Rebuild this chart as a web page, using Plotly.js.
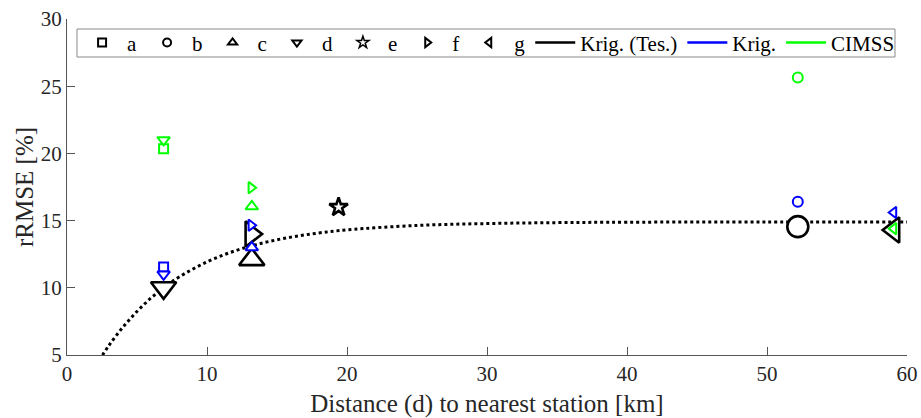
<!DOCTYPE html>
<html>
<head>
<meta charset="utf-8">
<script src="https://cdn.plot.ly/plotly-3.0.1.min.js"></script>
<style>html,body{margin:0;padding:0;background:#fff;}#chart{width:921px;height:418px;}</style>
</head>
<body>
<div id="chart"></div>
<script>
// Stations (categories) and their symbols
const categories = ['a', 'b', 'c', 'd', 'e', 'f', 'g'];
const symbols = ['square-open', 'circle-open', 'triangle-up-open', 'triangle-down-open', 'star-open', 'triangle-right-open', 'triangle-left-open'];
// Distance to nearest station [km]
const distance = [6.9, 52.2, 13.2, 6.9, 19.4, 13.15, 59.05];
// rRMSE [%] per method
const krigTes = [null, 14.55, 12.1, 10.0, 16.0, 14.0, 14.3];
const krig    = [11.55, 16.4, 13.0, 11.0, null, 14.65, 15.6];
const cimss   = [20.35, 25.65, 16.05, 21.0, null, 17.45, 14.4];
// Dotted fitted curve
const curveX = [2.3, 3, 4, 5, 6, 7, 8, 10, 12, 14, 16, 18, 20, 25, 30, 35, 40, 50, 60];
const curveY = [4.6, 5.72, 7.08, 8.24, 9.24, 10.08, 10.8, 11.93, 12.75, 13.34, 13.77, 14.08, 14.31, 14.64, 14.78, 14.85, 14.88, 14.9, 14.9];
// Legend line entries
const lineNames = ['Krig. (Tes.)', 'Krig.', 'CIMSS'];
const lineColors = ['#000000', '#0000ff', '#00ff00'];

const FONT = 'Liberation Serif, Times New Roman, serif';
const traces = [];

traces.push({
  x: curveX, y: curveY, mode: 'lines', type: 'scatter',
  line: {color: '#000', width: 3, dash: 'dot', shape: 'spline'},
  showlegend: false, hoverinfo: 'skip'
});

function series(vals, color, small) {
  return {
    x: distance, y: vals, mode: 'markers', type: 'scatter', showlegend: false,
    marker: {
      symbol: symbols.map(s => s.replace('-open', '')),
      size: small ? [9, 10, 11, 11, 10, 10, 10] : [20, 21, 22, 22, 14, 22, 22],
      color: '#ffffff', opacity: 1,
      line: {color: color, width: small ? 2 : 2.6}
    }
  };
}
traces.push(series(krigTes, '#000000', false));
traces.push(series(krig, '#0000ff', true));
traces.push(series(cimss, '#00ff00', true));

// Legend-only entries
categories.forEach((c, i) => {
  traces.push({
    x: [null], y: [null], mode: 'markers', type: 'scatter', name: c,
    marker: {symbol: symbols[i], size: i === 4 ? 9 : 8, color: '#000', line: {color: '#000', width: i === 4 ? 1.5 : 2}}
  });
});
lineNames.forEach((n, i) => {
  traces.push({
    x: [null], y: [null], mode: 'lines', type: 'scatter', name: n,
    line: {color: lineColors[i], width: 2.5}
  });
});

const layout = {
  width: 921, height: 418,
  margin: {l: 67, r: 14, t: 19, b: 63},
  paper_bgcolor: '#fff', plot_bgcolor: '#fff',
  font: {family: FONT, size: 20, color: '#262626'},
  showlegend: true,
  legend: {
    orientation: 'h', x: 0.012, y: 0.99, xanchor: 'left', yanchor: 'top',
    bgcolor: 'rgba(0,0,0,0)', borderwidth: 0,
    font: {family: FONT, size: 21, color: '#000'},
    itemwidth: 40
  },
  shapes: [{
    type: 'rect', xref: 'paper', yref: 'paper',
    x0: 0.0119, x1: 0.9857, y0: 0.8869, y1: 0.9702,
    line: {color: '#8a8a8a', width: 1}, fillcolor: '#ffffff', layer: 'below'
  }],
  xaxis: {
    range: [0, 60], dtick: 10, tick0: 0, ticks: 'inside', ticklen: 8, tickcolor: '#555',
    showline: true, linecolor: '#555', linewidth: 1, showgrid: false, zeroline: false,
    tickfont: {family: FONT, size: 21, color: '#262626'},
    title: {text: 'Distance (d) to nearest station [km]', font: {family: FONT, size: 25, color: '#262626'}, standoff: 10}
  },
  yaxis: {
    range: [5, 30], dtick: 5, tick0: 5, ticks: 'inside', ticklen: 8, tickcolor: '#555',
    showline: true, linecolor: '#555', linewidth: 1, showgrid: false, zeroline: false,
    tickfont: {family: FONT, size: 21, color: '#262626'},
    title: {text: 'rRMSE [%]', font: {family: FONT, size: 25, color: '#262626'}, standoff: 0}
  }
};

Plotly.newPlot('chart', traces, layout, {displayModeBar: false, staticPlot: true});
</script>
</body>
</html>
